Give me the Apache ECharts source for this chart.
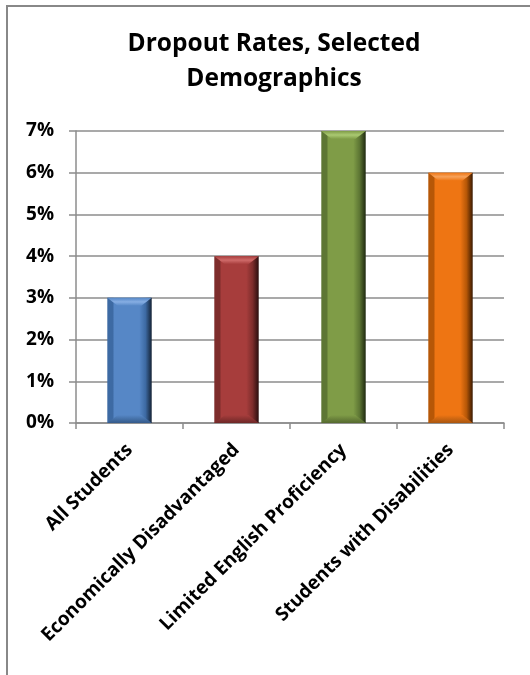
<!DOCTYPE html>
<html>
<head>
<meta charset="utf-8">
<script src="https://cdn.jsdelivr.net/npm/echarts@6/dist/echarts.min.js"></script>
<style>
  html, body { margin: 0; padding: 0; background: #ffffff; }
  #chart { width: 530px; height: 675px; }
</style>
</head>
<body>
<div id="chart"></div>
<script>
// Dropout rates (%) for selected student groups
const categories = ['All Students', 'Economically Disadvantaged', 'Limited English Proficiency', 'Students with Disabilities'];
const dropoutRates = [3, 4, 7, 6];
const yTicks = [0, 1, 2, 3, 4, 5, 6, 7];

// Bevel palette per bar: [edge, main, top face, bottom face, dark side]
const palettes = [
  ['#3d6aa3', '#5687c6', '#86aee3', '#345a8a', '#142235'],
  ['#7e2d2c', '#a73d3c', '#cf6a69', '#6e2827', '#2a0e0e'],
  ['#5d7634', '#7f9c47', '#aac972', '#55692f', '#1f2a10'],
  ['#b65707', '#ee7513', '#f7a25a', '#a9560f', '#3a1a02']
];

const FONT = '"Open Sans"';
const chart = echarts.init(document.getElementById('chart'));

function renderBevelBar(params, api) {
  const i = api.value(0);
  const v = api.value(1);
  const top = api.coord([i, v]);
  const base = api.coord([i, 0]);
  const band = api.size([1, 0])[0];
  const w = band * 0.415;
  const x0 = top[0] - w / 2;
  const x1 = top[0] + w / 2;
  const yT = top[1];
  const yB = base[1];
  const b = Math.min(8, (yB - yT) / 2);
  const p = palettes[i];
  return {
    type: 'group',
    children: [
      {
        type: 'rect',
        shape: { x: x0, y: yT, width: w, height: yB - yT },
        style: {
          fill: new echarts.graphic.LinearGradient(0, 0, 1, 0, [
            { offset: 0, color: p[0] },
            { offset: 0.12, color: p[0] },
            { offset: 0.16, color: p[1] },
            { offset: 0.72, color: p[1] },
            { offset: 0.86, color: p[0] },
            { offset: 1, color: p[4] }
          ])
        }
      },
      {
        type: 'polygon',
        shape: { points: [[x0, yT], [x1, yT], [x1 - b * 1.3, yT + b], [x0 + b * 1.3, yT + b]] },
        style: {
          fill: new echarts.graphic.LinearGradient(0, 0, 0, 1, [
            { offset: 0, color: p[1] },
            { offset: 0.5, color: p[2] },
            { offset: 1, color: p[1] }
          ])
        }
      },
      {
        type: 'polygon',
        shape: { points: [[x0, yB], [x1, yB], [x1 - b * 1.3, yB - b], [x0 + b * 1.3, yB - b]] },
        style: {
          fill: new echarts.graphic.LinearGradient(0, 0, 0, 1, [
            { offset: 0, color: p[1] },
            { offset: 1, color: p[3] }
          ])
        }
      }
    ]
  };
}

chart.setOption({
  backgroundColor: '#ffffff',
  animation: false,
  graphic: [
    {
      type: 'rect',
      shape: { x: 7, y: 6, width: 600, height: 720 },
      style: { fill: 'none', stroke: '#888888', lineWidth: 2 },
      silent: true
    }
  ],
  title: {
    text: 'Dropout Rates, Selected\nDemographics',
    left: 269,
    top: 22,
    textAlign: 'center',
    textStyle: {
      fontFamily: FONT,
      fontWeight: 'bold',
      fontSize: 24.5,
      lineHeight: 35,
      color: '#000000'
    }
  },
  grid: { left: 76, right: 26, top: 131, bottom: 252 },
  xAxis: {
    type: 'category',
    data: categories,
    axisLine: { show: true, lineStyle: { color: '#8c8c8c', width: 1.5 } },
    axisTick: { show: true, length: 6, alignWithLabel: false, lineStyle: { color: '#8c8c8c', width: 1.5 } },
    axisLabel: {
      interval: 0,
      rotate: 45,
      margin: 24,
      fontFamily: FONT,
      fontWeight: 'bold',
      fontSize: 19,
      color: '#000000'
    }
  },
  yAxis: {
    type: 'value',
    min: yTicks[0],
    max: yTicks[yTicks.length - 1],
    interval: 1,
    axisLine: { show: true, lineStyle: { color: '#8c8c8c', width: 1.5 } },
    axisTick: { show: true, length: 7, lineStyle: { color: '#8c8c8c', width: 1.5 } },
    splitLine: { show: true, lineStyle: { color: '#8c8c8c', width: 1.5 } },
    axisLabel: {
      formatter: '{value}%',
      margin: 22,
      fontFamily: FONT,
      fontWeight: 'bold',
      fontSize: 19,
      color: '#000000'
    }
  },
  series: [
    {
      type: 'custom',
      renderItem: renderBevelBar,
      encode: { x: 0, y: 1 },
      data: dropoutRates.map((v, i) => [i, v])
    }
  ]
});
</script>
</body>
</html>
